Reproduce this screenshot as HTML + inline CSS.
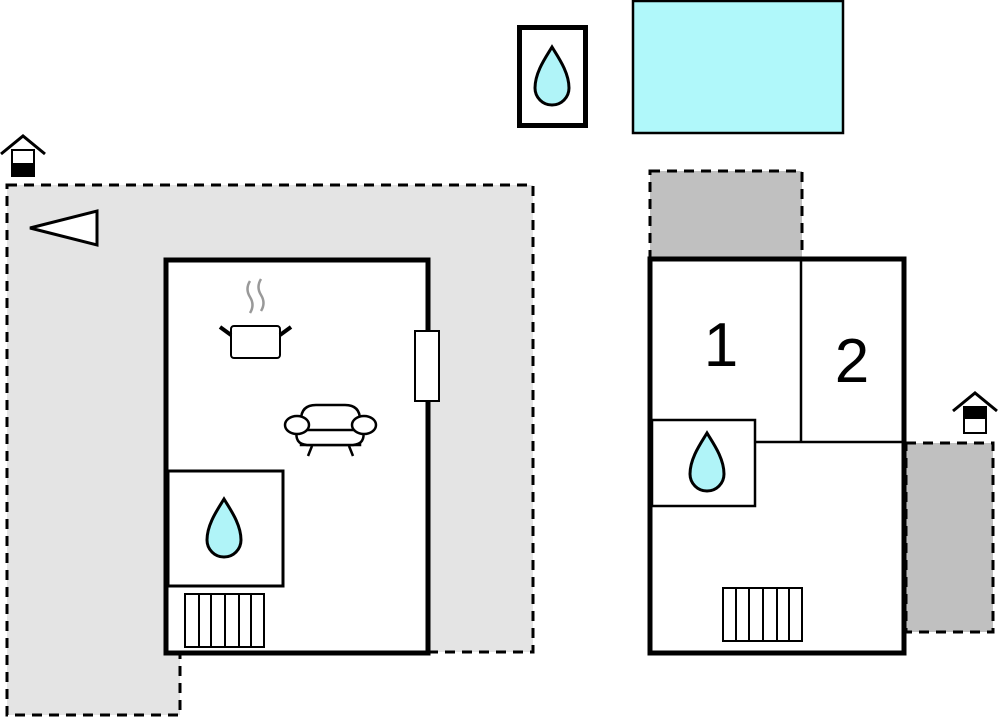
<!DOCTYPE html>
<html><head><meta charset="utf-8"><style>body{margin:0;background:#fff}svg{display:block}</style></head>
<body>
<svg width="1000" height="719" viewBox="0 0 1000 719" xmlns="http://www.w3.org/2000/svg">
<defs>
<path id="drop" d="M0,0 C6,10 17,25 17,41 A17,17 0 0 1 -17,41 C-17,25 -6,10 0,0Z" fill="#b0f4f8" stroke="#000" stroke-width="3"/>
<g id="house">
<polyline points="0,20 22,2 44,20" fill="none" stroke="#000" stroke-width="3"/>
<rect x="11" y="16" width="22" height="26" fill="#fff" stroke="#000" stroke-width="2"/>
</g>
</defs>
<polygon points="7,185 533,185 533,652 180,652 180,715 7,715" fill="#e4e4e4" stroke="#000" stroke-width="3" stroke-dasharray="10,7"/>
<polygon points="30,228 97,211 97,245" fill="#fff" stroke="#000" stroke-width="3"/>
<g transform="translate(1,134)"><use href="#house"/><rect x="11" y="29" width="22" height="13" fill="#000"/></g>
<rect x="166" y="260" width="262" height="393" fill="#fff" stroke="#000" stroke-width="5"/>
<rect x="168" y="471" width="115" height="115" fill="#fff" stroke="#000" stroke-width="3"/>
<use href="#drop" x="224" y="499"/>
<g fill="#fff" stroke="#000" stroke-width="2">
<rect x="185" y="594" width="79" height="53"/>
<line x1="199" y1="594" x2="199" y2="647"/><line x1="211" y1="594" x2="211" y2="647"/><line x1="225" y1="594" x2="225" y2="647"/><line x1="239" y1="594" x2="239" y2="647"/><line x1="251" y1="594" x2="251" y2="647"/>
</g>
<rect x="415" y="331" width="24" height="70" fill="#fff" stroke="#000" stroke-width="2"/>
<path d="M250,281 q-5,8 0,16 q5,8 0,16 M261,279 q-5,8 0,16 q5,8 0,16" fill="none" stroke="#999" stroke-width="2.5"/>
<rect x="231" y="326" width="49" height="32" rx="3" fill="#fff" stroke="#000" stroke-width="2"/>
<line x1="231" y1="335" x2="220" y2="327" stroke="#000" stroke-width="4"/>
<line x1="280" y1="335" x2="291" y2="327" stroke="#000" stroke-width="4"/>
<g fill="#fff" stroke="#000" stroke-width="2.5">
<path d="M301,420 q0,-15 15,-15 h29 q15,0 15,15 v25 h-59z"/>
<path d="M297,430 h66 q3,14 -10,15 h-46 q-13,-1 -10,-15z"/>
<ellipse cx="297" cy="425" rx="12" ry="9"/>
<ellipse cx="364" cy="425" rx="12" ry="9"/>
<line x1="312" y1="446" x2="308" y2="456"/><line x1="349" y1="446" x2="353" y2="456"/>
</g>
<rect x="519.5" y="27.5" width="66" height="98" fill="#fff" stroke="#000" stroke-width="5"/>
<use href="#drop" x="552" y="47"/>
<rect x="633" y="1" width="210" height="132" fill="#b0f8fa" stroke="#000" stroke-width="2.5"/>
<rect x="650" y="171" width="152" height="88" fill="#c0c0c0" stroke="#000" stroke-width="3" stroke-dasharray="10,7"/>
<rect x="906" y="443" width="87" height="189" fill="#c0c0c0" stroke="#000" stroke-width="3" stroke-dasharray="10,7"/>
<g transform="translate(953,391)"><use href="#house"/><rect x="11" y="16" width="22" height="12" fill="#000"/></g>
<rect x="650" y="259" width="254" height="394" fill="#fff" stroke="#000" stroke-width="5"/>
<line x1="801" y1="259" x2="801" y2="442" stroke="#000" stroke-width="2.5"/>
<line x1="755" y1="442" x2="904" y2="442" stroke="#000" stroke-width="2.5"/>
<rect x="652" y="420" width="103" height="86" fill="#fff" stroke="#000" stroke-width="2.5"/>
<use href="#drop" x="707" y="433"/>
<g fill="#fff" stroke="#000" stroke-width="2">
<rect x="723" y="588" width="79" height="53"/>
<line x1="736" y1="588" x2="736" y2="641"/><line x1="749" y1="588" x2="749" y2="641"/><line x1="763" y1="588" x2="763" y2="641"/><line x1="777" y1="588" x2="777" y2="641"/><line x1="789" y1="588" x2="789" y2="641"/>
</g>
<text x="721" y="366" font-family="Liberation Sans, sans-serif" font-size="62" text-anchor="middle">1</text>
<text x="852" y="382" font-family="Liberation Sans, sans-serif" font-size="62" text-anchor="middle">2</text>
</svg>
</body></html>
